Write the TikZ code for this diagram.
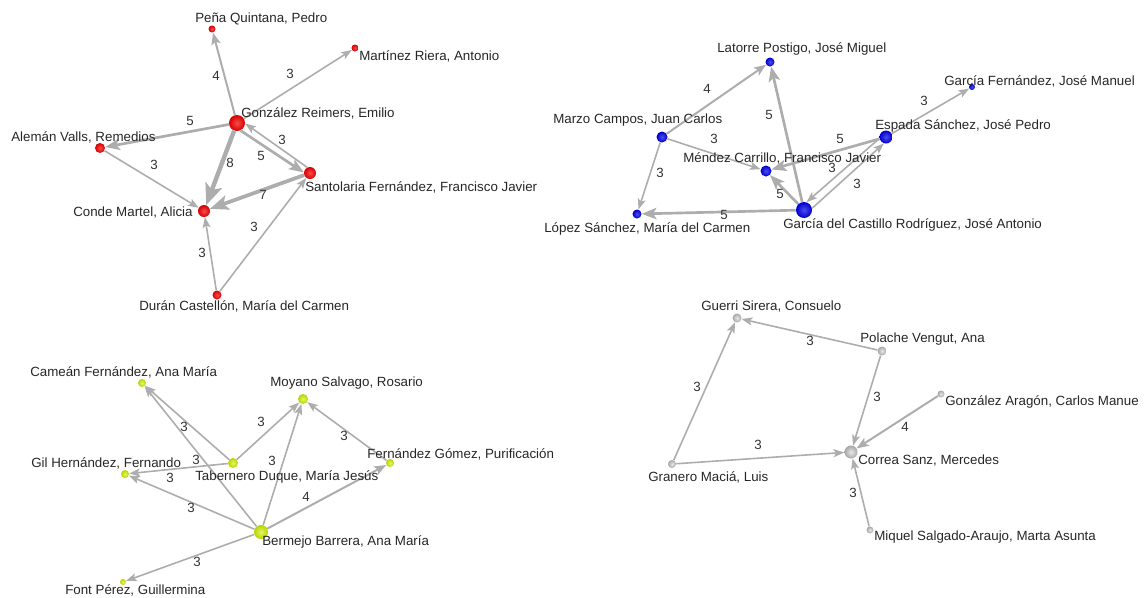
\documentclass[tikz,border=0pt]{standalone}
\usepackage{fontspec}
\setmainfont{Liberation Sans}
\usetikzlibrary{arrows.meta}

\definecolor{edgegray}{HTML}{ADADAD}
\definecolor{nodered}{HTML}{F00000}
\definecolor{nodeblue}{HTML}{0000E6}
\definecolor{nodelime}{HTML}{D2F000}
\definecolor{nodegray}{HTML}{C4C4C4}

\begin{document}
\begin{tikzpicture}[x=0.75pt, y=-0.75pt,
    every node/.style={font=\fontsize{10}{12}\selectfont},
    pers/.style={circle, inner sep=0pt, minimum size=#1},
    rd/.style={shading=radial, inner color=nodered!70!white, outer color=nodered!90!black},
    bl/.style={shading=radial, inner color=nodeblue!70!white, outer color=nodeblue!90!black},
    lm/.style={shading=radial, inner color=nodelime!60!white, outer color=nodelime!88!black},
    gy/.style={shading=radial, inner color=nodegray!40!white, outer color=nodegray!85!black},
    lbl/.style={anchor=west, inner sep=0pt, text=black!85},
    num/.style={inner sep=0pt, text=black!80},
    wt3/.style={draw=edgegray, line width=1.2pt, -{Stealth[length=8pt, width=6pt, inset=1.8pt]}},
    wt4/.style={draw=edgegray, line width=1.5pt, -{Stealth[length=9pt, width=7pt, inset=2pt]}},
    wt5/.style={draw=edgegray, line width=2pt, -{Stealth[length=11pt, width=8.5pt, inset=2.5pt]}},
    wt7/.style={draw=edgegray, line width=2.8pt, -{Stealth[length=14pt, width=11pt, inset=3.2pt]}},
    wt8/.style={draw=edgegray, line width=3.3pt, -{Stealth[length=16pt, width=13pt, inset=3.8pt]}}]
    \useasboundingbox (0,0) rectangle (1147,597);

    % Red group
    \node[pers=5.25pt, rd] (pen) at (212,29) {};
    \node[pers=5.25pt, rd] (mar) at (355,48) {};
    \node[pers=12pt, rd] (gon) at (237,123) {};
    \node[pers=7.5pt, rd] (ale) at (100,148) {};
    \node[pers=9pt, rd] (san) at (310,173) {};
    \node[pers=9pt, rd] (con) at (204,211) {};
    \node[pers=6.75pt, rd] (dur) at (217,295) {};

    \draw[wt4] (gon) -- (pen) node[num] at (216,76) {4};
    \draw[wt3] (gon) -- (mar) node[num] at (290,74) {3};
    \draw[wt5] (gon) -- (ale) node[num] at (190,121) {5};
    \draw[wt5] (gon.-65) -- (san.175) node[num] at (261,156) {5};
    \draw[wt3] (san.116) -- (gon.-4) node[num] at (282,140) {3};
    \draw[wt8] (gon) -- (con) node[num] at (230,163) {8};
    \draw[wt3] (ale) -- (con) node[num] at (154,165) {3};
    \draw[wt7] (san) -- (con) node[num] at (263,195) {7};
    \draw[wt3] (dur) -- (san) node[num] at (254,227) {3};
    \draw[wt3] (dur) -- (con) node[num] at (202,253) {3};

    \node[lbl] (pen-t) at (195,19) {Peña Quintana, Pedro};
    \node[lbl] (mar-t) at (359,56) {Martínez Riera, Antonio};
    \node[lbl] (gon-t) at (241,113) {González Reimers, Emilio};
    \node[lbl] (ale-t) at (11,137) {Alemán Valls, Remedios};
    \node[lbl] (san-t) at (305,187) {Santolaria Fernández, Francisco Javier};
    \node[lbl] (con-t) at (73,213) {Conde Martel, Alicia};
    \node[lbl] (dur-t) at (139,306) {Durán Castellón, María del Carmen};

    % Blue group
    \node[pers=6.75pt, bl] (lat) at (770,62) {};
    \node[pers=4.5pt, bl] (gfe) at (972,87) {};
    \node[pers=8.25pt, bl] (mcz) at (662,137) {};
    \node[pers=9.75pt, bl] (esp) at (886,137) {};
    \node[pers=8.25pt, bl] (men) at (766,171) {};
    \node[pers=6.75pt, bl] (lop) at (637,214) {};
    \node[pers=12pt, bl] (gdc) at (804,210) {};

    \draw[wt4] (mcz) -- (lat) node[num] at (707,89) {4};
    \draw[wt3] (mcz) -- (men) node[num] at (714,139) {3};
    \draw[wt3] (mcz) -- (lop) node[num] at (660,173) {3};
    \draw[wt5] (gdc) -- (lat) node[num] at (769,115) {5};
    \draw[wt5] (gdc) -- (men) node[num] at (780,194) {5};
    \draw[wt5] (gdc) -- (lop) node[num] at (724,215) {5};
    \draw[wt5] (esp) -- (men) node[num] at (840,139) {5};
    \draw[wt3] (esp.192) -- (gdc.72) node[num] at (832,168) {3};
    \draw[wt3] (gdc.12) -- (esp.252) node[num] at (857,184) {3};
    \draw[wt3] (esp) -- (gfe) node[num] at (924,101) {3};

    \node[lbl] (lat-t) at (717,49) {Latorre Postigo, José Miguel};
    \node[lbl] (gfe-t) at (944,81) {García Fernández, José Manuel};
    \node[lbl] (mcz-t) at (553,120) {Marzo Campos, Juan Carlos};
    \node[lbl] (esp-t) at (875,126) {Espada Sánchez, José Pedro};
    \node[lbl] (men-t) at (683,158) {Méndez Carrillo, Francisco Javier};
    \node[lbl] (lop-t) at (544,229) {López Sánchez, María del Carmen};
    \node[lbl] (gdc-t) at (783,225) {García del Castillo Rodríguez, José Antonio};

    % Lime group
    \node[pers=6pt, lm] (cam) at (142,383) {};
    \node[pers=7.5pt, lm] (moy) at (303,399) {};
    \node[pers=6pt, lm] (gil) at (125,474) {};
    \node[pers=7.5pt, lm] (tab) at (233,463) {};
    \node[pers=6pt, lm] (fgo) at (390,463) {};
    \node[pers=10.5pt, lm] (ber) at (261,532) {};
    \node[pers=4.5pt, lm] (fon) at (123,582) {};

    \draw[wt3] (tab) -- (cam) node[num] at (184,427) {3};
    \draw[wt3] (ber) -- (cam) node[num] at (196,460) {3};
    \draw[wt3] (tab) -- (gil) node[num] at (170,478) {3};
    \draw[wt3] (ber) -- (gil) node[num] at (191,508) {3};
    \draw[wt3] (tab) -- (moy) node[num] at (261,422) {3};
    \draw[wt3] (ber) -- (moy) node[num] at (272,461) {3};
    \draw[wt3] (fgo) -- (moy) node[num] at (344,436) {3};
    \draw[wt4] (ber) -- (fgo) node[num] at (306,497) {4};
    \draw[wt3] (ber) -- (fon) node[num] at (197,562) {3};

    \node[lbl] (cam-t) at (30,372) {Cameán Fernández, Ana María};
    \node[lbl] (moy-t) at (270,383) {Moyano Salvago, Rosario};
    \node[lbl] (gil-t) at (31,463) {Gil Hernández, Fernando};
    \node[lbl] (tab-t) at (195,477) {Tabernero Duque, María Jesús};
    \node[lbl] (fgo-t) at (367,454) {Fernández Gómez, Purificación};
    \node[lbl] (ber-t) at (262,542) {Bermejo Barrera, Ana María};
    \node[lbl] (fon-t) at (65,590) {Font Pérez, Guillermina};

    % Gray group
    \node[pers=6.75pt, gy] (gue) at (737,318) {};
    \node[pers=6.75pt, gy] (pol) at (882,351) {};
    \node[pers=5.25pt, gy] (gar) at (941,394) {};
    \node[pers=6pt, gy] (gra) at (672,464) {};
    \node[pers=9.75pt, gy] (cor) at (851,452) {};
    \node[pers=5.25pt, gy] (miq) at (870,530) {};

    \draw[wt3] (pol) -- (gue) node[num] at (810,341) {3};
    \draw[wt3] (gra) -- (gue) node[num] at (697,387) {3};
    \draw[wt3] (pol) -- (cor) node[num] at (877,397) {3};
    \draw[wt4] (gar) -- (cor) node[num] at (905,427) {4};
    \draw[wt3] (gra) -- (cor) node[num] at (758,445) {3};
    \draw[wt3] (miq) -- (cor) node[num] at (853,493) {3};

    \node[lbl] (gue-t) at (701,307) {Guerri Sirera, Consuelo};
    \node[lbl] (pol-t) at (860,339) {Polache Vengut, Ana};
    \node[lbl] (gar-t) at (945,402) {González Aragón, Carlos Manue};
    \node[lbl] (gra-t) at (648,477) {Granero Maciá, Luis};
    \node[lbl] (cor-t) at (858,461) {Correa Sanz, Mercedes};
    \node[lbl] (miq-t) at (874,537) {Miquel Salgado-Araujo, Marta Asunta};
\end{tikzpicture}
\end{document}
